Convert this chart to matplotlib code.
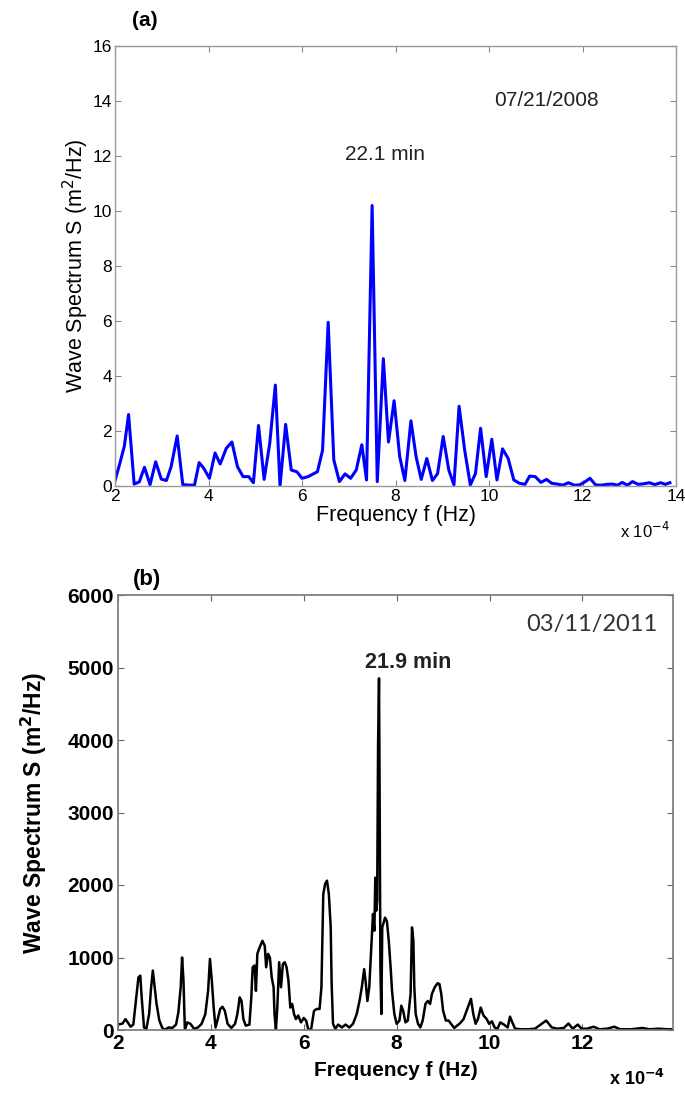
import numpy as np
import matplotlib.pyplot as plt

# Spectrum of 07/21/2008 (frequency in 1e-4 Hz, S in m^2/Hz)
freq_a = [2.0, 2.1, 2.2, 2.29, 2.41, 2.52, 2.63, 2.75, 2.87, 2.99, 3.1, 3.2, 3.33, 3.45,
          3.6, 3.7, 3.8, 3.9, 4.02, 4.14, 4.25, 4.38, 4.5, 4.62, 4.74, 4.86, 4.96, 5.07,
          5.19, 5.31, 5.43, 5.53, 5.65, 5.77, 5.89, 6.0, 6.13, 6.33, 6.44, 6.56, 6.68, 6.8,
          6.92, 7.04, 7.16, 7.28, 7.38, 7.5, 7.61, 7.74, 7.85, 7.97, 8.09, 8.2, 8.33, 8.44,
          8.55, 8.67, 8.79, 8.9, 9.02, 9.14, 9.25, 9.36, 9.48, 9.6, 9.71, 9.82, 9.94, 10.06,
          10.17, 10.29, 10.41, 10.53, 10.65, 10.77, 10.87, 10.99, 11.11, 11.23, 11.34, 11.46,
          11.58, 11.7, 11.82, 11.94, 12.06, 12.16, 12.28, 12.4, 12.52, 12.64, 12.75, 12.85,
          12.96, 13.07, 13.19, 13.31, 13.43, 13.55, 13.67, 13.77, 13.87]
spec_a = [0.2, 0.8, 1.45, 2.6, 0.07, 0.15, 0.68, 0.05, 0.88, 0.25, 0.2, 0.7, 1.82, 0.05,
          0.03, 0.03, 0.85, 0.64, 0.28, 1.2, 0.8, 1.37, 1.6, 0.7, 0.34, 0.34, 0.12, 2.2,
          0.24, 1.55, 3.67, 0.0, 2.24, 0.58, 0.52, 0.28, 0.34, 0.52, 1.3, 5.95, 0.95, 0.16,
          0.44, 0.28, 0.58, 1.5, 0.22, 10.2, 0.16, 4.63, 1.6, 3.1, 1.07, 0.2, 2.37, 1.07,
          0.24, 1.0, 0.2, 0.45, 1.8, 0.58, 0.04, 2.9, 1.3, 0.04, 0.45, 2.1, 0.34, 1.7,
          0.22, 1.35, 1.0, 0.22, 0.1, 0.06, 0.36, 0.34, 0.13, 0.24, 0.1, 0.07,
          0.03, 0.12, 0.03, 0.04, 0.16, 0.28, 0.04, 0.03, 0.06, 0.07, 0.03, 0.13,
          0.03, 0.16, 0.06, 0.08, 0.12, 0.05, 0.12, 0.06, 0.12]

# Spectrum of 03/11/2011
freq_b = [2.0, 2.1, 2.16, 2.21, 2.27, 2.33, 2.39, 2.44, 2.48, 2.51, 2.56, 2.61, 2.67, 2.71,
          2.75, 2.79, 2.83, 2.89, 2.95, 3.0, 3.09, 3.17, 3.25, 3.3, 3.35, 3.38, 3.41, 3.44,
          3.49, 3.56, 3.64, 3.72, 3.8, 3.88, 3.94, 3.98, 4.02, 4.06, 4.1, 4.14, 4.2, 4.25,
          4.3, 4.36, 4.44, 4.52, 4.57, 4.62, 4.66, 4.7, 4.75, 4.83, 4.87, 4.9, 4.94, 4.97,
          5.0, 5.05, 5.11, 5.16, 5.19, 5.23, 5.27, 5.31, 5.35, 5.37, 5.4, 5.43, 5.47, 5.51,
          5.55, 5.59, 5.63, 5.67, 5.71, 5.75, 5.79, 5.83, 5.88, 5.94, 6.0, 6.05, 6.1, 6.16,
          6.22, 6.28, 6.34, 6.38, 6.42, 6.46, 6.5, 6.54, 6.58, 6.6, 6.63, 6.68, 6.74, 6.82,
          6.9, 6.98, 7.06, 7.14, 7.2, 7.25, 7.3, 7.33, 7.37, 7.41, 7.45, 7.49, 7.52, 7.54,
          7.56, 7.58, 7.6, 7.62, 7.63, 7.65, 7.67, 7.69, 7.71, 7.75, 7.79, 7.83, 7.87, 7.9,
          7.95, 8.0, 8.06, 8.1, 8.14, 8.19, 8.24, 8.3, 8.33, 8.36, 8.38, 8.41, 8.46, 8.51,
          8.56, 8.62, 8.67, 8.72, 8.76, 8.82, 8.88, 8.92, 8.96, 9.0, 9.06, 9.12, 9.17, 9.24,
          9.3, 9.36, 9.44, 9.52, 9.6, 9.65, 9.7, 9.75, 9.81, 9.87, 9.94, 9.99, 10.05, 10.11,
          10.17, 10.23, 10.31, 10.39, 10.44, 10.49, 10.55, 10.67, 10.83, 10.98, 11.1, 11.22,
          11.34, 11.46, 11.6, 11.7, 11.79, 11.9, 11.98, 12.1, 12.24, 12.37, 12.53, 12.69,
          12.81, 13.05, 13.29, 13.44, 13.64, 13.84, 13.95]
spec_b = [75, 90, 150, 105, 45, 75, 430, 725, 750, 450, 35, 15, 220, 565,
          820, 590, 360, 130, 35, 0, 35, 28, 75, 245, 590, 1000, 680, 0,
          105, 85, 15, 35, 85, 220, 540, 980, 680, 310, 35, 130, 290, 320,
          265, 85, 28, 85, 220, 450, 400, 150, 60, 75, 450, 865, 890, 540,
          1050, 1140, 1230, 1160, 865, 1050, 1000, 725, 590, 220, 0, 310, 935, 590,
          910, 935, 865, 680, 310, 360, 220, 150, 200, 105, 165, 130, 0, 15,
          265, 290, 290, 590, 1875, 2015, 2060, 1875, 1415, 635, 85, 15, 75, 35,
          75, 35, 85, 220, 400, 590, 840, 680, 400, 590, 1095, 1600, 1370, 2100,
          1645, 1780, 3950, 4850, 3700, 860, 220, 1415, 1460, 1550, 1500, 1230, 865, 540,
          220, 85, 130, 335, 265, 105, 130, 500, 1415, 1230, 590, 220, 85, 35,
          130, 360, 400, 360, 500, 590, 645, 635, 500, 265, 130, 130, 85, 28,
          60, 90, 150, 290, 430, 220, 85, 150, 310, 200, 150, 85, 120, 35,
          15, 105, 75, 35, 185, 105, 18, 10, 10, 18, 75, 130,
          35, 18, 28, 90, 18, 75, 18, 18, 45, 10, 18, 45,
          10, 10, 28, 10, 18, 10, 10]

yticks_a = [0, 2, 4, 6, 8, 10, 12, 14, 16]
yticks_b = [0, 1000, 2000, 3000, 4000, 5000, 6000]
xticks_a = [2, 4, 6, 8, 10, 12, 14]
xticks_b = [2, 4, 6, 8, 10, 12]

plt.rcParams['font.family'] = ['Liberation Sans', 'DejaVu Sans']

fig = plt.figure(figsize=(6.85, 11), dpi=100)

# ----- panel (a) -----
ax1 = fig.add_axes((115/685, 1-486/1100, (676-115)/685, (486-46)/1100))
ax1.plot(freq_a, spec_a, '-', color='#0000ff', linewidth=2.2)
ax1.set_xlim(2, 14)
ax1.set_ylim(0, 16)
ax1.set_xticks(xticks_a)
ax1.set_yticks(yticks_a)
ax1.tick_params(direction='in', length=4, width=0.8, color='#888888',
                top=True, right=True, labelsize=12.5, pad=2)
for sp in ax1.spines.values():
    sp.set_color('#999999')
    sp.set_linewidth(1.0)
ax1.set_xlabel('Frequency f (Hz)', fontsize=15.5, labelpad=1)
ax1.set_ylabel('Wave Spectrum S (m$^2$/Hz)', fontsize=15.5, labelpad=1)
ax1.text(11.22, 14.0, '07/21/2008', fontsize=15, ha='center', va='center', color='#222222')
ax1.text(7.78, 12.05, '22.1 min', fontsize=15, ha='center', va='center', color='#222222')
ax1.text(0.99, -0.08, r'x 10$^{-4}$', transform=ax1.transAxes, fontsize=12,
         ha='right', va='top')
fig.text(132/685, 1-20/1100, '(a)', fontsize=15, fontweight='bold', va='center')

# ----- panel (b) -----
ax2 = fig.add_axes((118/685, 1-1030/1100, (673-118)/685, (1030-595)/1100))
ax2.plot(freq_b, spec_b, '-', color='black', linewidth=1.8)
ax2.set_xlim(2, 13.95)
ax2.set_ylim(0, 6000)
ax2.set_xticks(xticks_b)
ax2.set_yticks(yticks_b)
ax2.tick_params(direction='in', length=4, width=0.8, color='#666666',
                top=True, right=True, labelsize=15, pad=3)
for lbl in ax2.get_xticklabels() + ax2.get_yticklabels():
    lbl.set_fontweight('bold')
for sp in ax2.spines.values():
    sp.set_color('#777777')
    sp.set_linewidth(1.2)
ax2.set_xlabel('Frequency f (Hz)', fontsize=15, fontweight='bold', labelpad=6)
ax2.set_ylabel(r'Wave Spectrum S (m$^\mathbf{2}$/Hz)', fontsize=16.5, fontweight='bold',
               labelpad=13)
ax2.text(12.2, 5590, '03/11/2011', fontsize=17, ha='center', va='center',
         color='#333333', family=['Lato', 'DejaVu Sans'])
ax2.text(8.25, 5075, '21.9 min', fontsize=15.5, fontweight='bold', ha='center',
         va='center', color='#222222')
ax2.text(0.985, -0.09, r'x 10$^{\mathbf{-4}}$', transform=ax2.transAxes, fontsize=13,
         fontweight='bold', ha='right', va='top')
fig.text(133/685, 1-580/1100, '(b)', fontsize=16, fontweight='bold', va='center')

fig.savefig('out.png', dpi=100)
